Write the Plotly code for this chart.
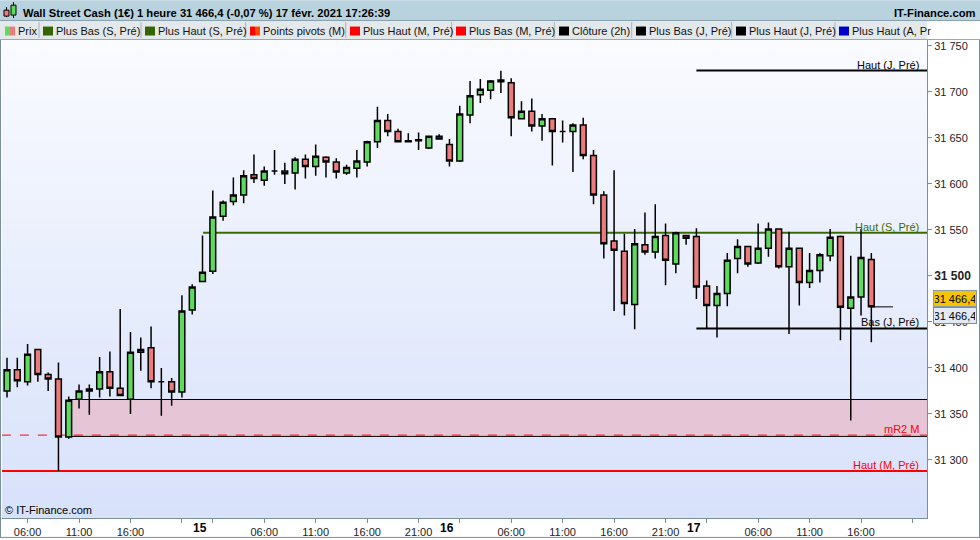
import plotly.graph_objects as go

# ---------------- data ----------------
opens = [31375, 31398, 31385, 31420, 31393, 31388, 31325, 31366, 31375, 31377,
         31396, 31378, 31366, 31417, 31422, 31385, 31385, 31374, 31463, 31494,
         31505, 31565, 31581, 31588, 31610, 31604, 31614, 31614, 31612, 31627,
         31619, 31629, 31624, 31612, 31617, 31624, 31646, 31669, 31657, 31647,
         31647, 31639, 31652, 31643, 31625, 31675, 31697, 31702, 31713, 31710,
         31671, 31679, 31663, 31671, 31657, 31657, 31664, 31631, 31588, 31538,
         31527, 31469, 31534, 31526, 31544, 31513, 31544, 31543, 31489, 31468,
         31481, 31519, 31532, 31514, 31530, 31551, 31510, 31530, 31493, 31506,
         31522, 31543, 31465, 31477, 31518]
highs = [31411, 31411, 31426, 31421, 31395, 31406, 31369, 31382, 31382, 31412,
         31418, 31464, 31439, 31433, 31445, 31400, 31389, 31479, 31491, 31544,
         31593, 31582, 31607, 31615, 31632, 31619, 31637, 31623, 31629, 31632,
         31643, 31630, 31628, 31621, 31637, 31647, 31684, 31676, 31660, 31655,
         31656, 31652, 31654, 31649, 31685, 31712, 31714, 31713, 31723, 31715,
         31690, 31693, 31676, 31671, 31669, 31666, 31672, 31637, 31592, 31615,
         31546, 31551, 31569, 31578, 31557, 31548, 31544, 31552, 31495, 31489,
         31525, 31540, 31532, 31557, 31558, 31551, 31548, 31530, 31525, 31525,
         31551, 31544, 31522, 31551, 31525]
lows = [31368, 31379, 31381, 31385, 31375, 31288, 31323, 31356, 31349, 31368,
        31369, 31370, 31350, 31397, 31378, 31348, 31359, 31368, 31458, 31494,
        31502, 31560, 31577, 31579, 31601, 31598, 31610, 31600, 31594, 31606,
        31609, 31607, 31606, 31610, 31607, 31619, 31639, 31652, 31645, 31645,
        31637, 31638, 31649, 31619, 31624, 31666, 31688, 31692, 31699, 31652,
        31670, 31657, 31647, 31620, 31645, 31613, 31627, 31578, 31519, 31462,
        31457, 31442, 31523, 31519, 31490, 31503, 31534, 31475, 31443, 31433,
        31467, 31503, 31510, 31513, 31521, 31508, 31437, 31468, 31487, 31493,
        31516, 31430, 31343, 31457, 31428]
closes = [31398, 31386, 31415, 31393, 31388, 31325, 31365, 31375, 31377, 31396,
          31378, 31370, 31417, 31420, 31385, 31385, 31374, 31462, 31488, 31504,
          31564, 31580, 31588, 31609, 31606, 31614, 31614, 31611, 31627, 31619,
          31630, 31624, 31613, 31618, 31625, 31646, 31669, 31657, 31646, 31646,
          31648, 31652, 31649, 31625, 31676, 31696, 31703, 31712, 31711, 31672,
          31679, 31663, 31671, 31657, 31657, 31664, 31631, 31588, 31535, 31528,
          31470, 31535, 31526, 31543, 31517, 31547, 31541, 31488, 31468, 31481,
          31517, 31532, 31513, 31530, 31551, 31510, 31530, 31493, 31506, 31523,
          31542, 31466, 31477, 31520, 31466.4]
bar_index = list(range(len(opens)))

time_tick_pos = [2, 7, 12, 17, 20, 25, 30, 35, 40, 44, 49, 54, 59, 64, 68, 73, 78, 83, 88]
time_tick_text = ["06:00", "11:00", "16:00", "", "", "06:00", "11:00", "16:00", "21:00", "",
                  "06:00", "11:00", "16:00", "21:00", "", "06:00", "11:00", "16:00", ""]
day_tick_pos = [20, 44, 68]
day_tick_text = ["15", "16", "17"]

price_ticks = [31300, 31350, 31400, 31450, 31500, 31550, 31600, 31650, 31700, 31750]
price_tick_text = ["31 300", "31 350", "31 400", "31 450", "<b><span style='font-size:12px'>31 500</span></b>",
                   "31 550", "31 600", "31 650", "31 700", "31 750"]

level_names = ["Haut (J, Pré)", "Haut (S, Pré)", "Bas (J, Pré)", "mR2 M", "Haut (M, Pré)"]
level_values = [31723.3, 31547.0, 31443.0, 31327.0, 31288.0]
level_start = [67, 19.05, 67, -0.5, -0.5]
level_colors = ["#000000", "#3a6b00", "#000000", "#ff0000", "#ff0000"]
level_dash = ["solid", "solid", "solid", "dash", "solid"]
level_width = [2, 2, 2, 1, 2]

zone_top = 31365.7
zone_bottom = 31325.6
zone_start = 6

last_price = 31466.4
last_price_text = "31 466,4"

title_text = "Wall Street Cash (1€) 1 heure 31 466,4 (-0,07 %) 17 févr. 2021 17:26:39"

legend_items = ["Prix", "Plus Bas (S, Pré)", "Plus Haut (S, Pré)", "Points pivots (M)",
                "Plus Haut (M, Pré)", "Plus Bas (M, Pré)", "Clôture (2h)", "Plus Bas (J, Pré)",
                "Plus Haut (J, Pré)", "Plus Haut (A, Pr"]
legend_colors = [("#5cdb5c", "#ee7b7b"), ("#336600", "#336600"), ("#336600", "#336600"),
                 ("#ff0000", "#ff4a00"), ("#ff0000", "#ff0000"), ("#ff0000", "#ff0000"),
                 ("#000000", "#000000"), ("#000000", "#000000"), ("#000000", "#000000"),
                 ("#0000cc", "#0000cc")]

# ---------------- geometry helpers (pixel -> paper) ----------------
W, H = 980, 540
PL, PR, PT, PB = 2, 927, 40, 520


def px(x):
    return (x - PL) / (PR - PL)


def py(y):
    return (PB - y) / (PB - PT)


FONT = "Liberation Sans, Arial, sans-serif"

fig = go.Figure()

fig.add_trace(go.Candlestick(
    x=bar_index, open=opens, high=highs, low=lows, close=closes,
    increasing=dict(fillcolor="#5cdb5c", line=dict(color="#000000", width=1.5)),
    decreasing=dict(fillcolor="#ee7b7b", line=dict(color="#000000", width=1.5)),
    whiskerwidth=0, showlegend=False, hoverinfo="skip",
))

shapes = []
# background gradient of the plot area
n_bands = 48
top_c = (250, 251, 255)
bot_c = (215, 225, 250)
for i in range(n_bands):
    t = (i + 0.5) / n_bands
    c = tuple(round(top_c[k] + (bot_c[k] - top_c[k]) * t) for k in range(3))
    shapes.append(dict(type="rect", xref="paper", yref="paper", x0=0, x1=1,
                       y0=1 - (i + 1) / n_bands, y1=1 - i / n_bands + 0.001,
                       fillcolor="rgb(%d,%d,%d)" % c, line=dict(width=0), layer="below"))

# pink zone
shapes.append(dict(type="rect", xref="x", yref="y", x0=zone_start, x1=89.5,
                   y0=zone_bottom, y1=zone_top, fillcolor="#e6c5d6",
                   line=dict(color="#000000", width=1), layer="below"))

# levels
for name, v, s, col, d, w in zip(level_names, level_values, level_start, level_colors, level_dash, level_width):
    shapes.append(dict(type="line", xref="x", yref="y", x0=s, x1=89.5, y0=v, y1=v,
                       line=dict(color=col, width=w, dash=d), layer="below"))

# last close line
shapes.append(dict(type="line", xref="x", yref="y", x0=bar_index[-1], x1=bar_index[-1] + 2.1,
                   y0=last_price, y1=last_price, line=dict(color="#000000", width=1)))

# header bar
shapes.append(dict(type="rect", xref="paper", yref="paper", x0=px(0), x1=px(980), y0=py(20), y1=py(0),
                   fillcolor="#b8d2de", line=dict(width=0)))
shapes.append(dict(type="line", xref="paper", yref="paper", x0=px(0), x1=px(980), y0=py(20.5), y1=py(20.5),
                   line=dict(color="#7f9aa8", width=1)))
# legend bar
shapes.append(dict(type="rect", xref="paper", yref="paper", x0=px(0), x1=px(927.5), y0=py(39), y1=py(21),
                   fillcolor="#e3e8eb", line=dict(width=0)))
shapes.append(dict(type="rect", xref="paper", yref="paper", x0=px(927.5), x1=px(980), y0=py(39), y1=py(21),
                   fillcolor="#ffffff", line=dict(width=0)))
shapes.append(dict(type="line", xref="paper", yref="paper", x0=px(0), x1=px(980), y0=py(39.5), y1=py(39.5),
                   line=dict(color="#9aa8b0", width=1)))
for sx in [39, 141, 245.7, 345.7, 451.7, 554.3, 631.7, 731.7, 835]:
    shapes.append(dict(type="line", xref="paper", yref="paper", x0=px(sx), x1=px(sx), y0=py(38), y1=py(22),
                       line=dict(color="#a8b4ba", width=1)))

legend_icon_x = [5, 43, 145, 250, 350, 456, 559, 636, 736, 839]
annotations = []
for name, (c1, c2), ix in zip(legend_items, legend_colors, legend_icon_x):
    shapes.append(dict(type="rect", xref="paper", yref="paper", x0=px(ix), x1=px(ix + 5), y0=py(35.5), y1=py(26.5),
                       fillcolor=c1, line=dict(width=0)))
    shapes.append(dict(type="rect", xref="paper", yref="paper", x0=px(ix + 5), x1=px(ix + 10), y0=py(35.5), y1=py(26.5),
                       fillcolor=c2, line=dict(width=0)))
    annotations.append(dict(xref="paper", yref="paper", x=px(ix + 11), y=py(31), xanchor="left", yanchor="middle",
                            text=name, showarrow=False, font=dict(family=FONT, size=11, color="#111111")))

# header icon (two small candles)
shapes.append(dict(type="line", xref="paper", yref="paper", x0=px(6.5), x1=px(6.5), y0=py(17), y1=py(7),
                   line=dict(color="#000", width=1)))
shapes.append(dict(type="rect", xref="paper", yref="paper", x0=px(4), x1=px(9), y0=py(16), y1=py(10),
                   fillcolor="#ee7b7b", line=dict(color="#000", width=1)))
shapes.append(dict(type="line", xref="paper", yref="paper", x0=px(13.5), x1=px(13.5), y0=py(18), y1=py(2),
                   line=dict(color="#000", width=1)))
shapes.append(dict(type="rect", xref="paper", yref="paper", x0=px(11), x1=px(16), y0=py(15), y1=py(5),
                   fillcolor="#5cdb5c", line=dict(color="#000", width=1)))

# outer frame
shapes.append(dict(type="line", xref="paper", yref="paper", x0=px(0.5), x1=px(0.5), y0=py(540), y1=py(40),
                   line=dict(color="#7b8e9c", width=1)))
shapes.append(dict(type="line", xref="paper", yref="paper", x0=px(0), x1=px(980), y0=py(539.5), y1=py(539.5),
                   line=dict(color="#7b8e9c", width=1)))
shapes.append(dict(type="line", xref="paper", yref="paper", x0=px(979.5), x1=px(979.5), y0=py(540), y1=py(40),
                   line=dict(color="#7b8e9c", width=1)))

# header texts
annotations.append(dict(xref="paper", yref="paper", x=px(21), y=py(12.5), xanchor="left", yanchor="middle",
                        text="<b>" + title_text + "</b>", showarrow=False,
                        font=dict(family=FONT, size=11.2, color="#000000")))
annotations.append(dict(xref="paper", yref="paper", x=px(977), y=py(12.5), xanchor="right", yanchor="middle",
                        text="<b>IT-Finance.com</b>", showarrow=False,
                        font=dict(family=FONT, size=11.2, color="#000000")))

# level labels
for name, v, col in zip(level_names, level_values, level_colors):
    annotations.append(dict(xref="paper", yref="y", x=px(921), y=v, xanchor="right", yanchor="bottom",
                            text=name, showarrow=False, yshift=-2,
                            font=dict(family=FONT, size=11, color=col)))

# day labels
for p, t in zip(day_tick_pos, day_tick_text):
    annotations.append(dict(xref="x", yref="paper", x=p - 0.4, y=py(530.5), xanchor="right", yanchor="middle",
                            text="<b>" + t + "</b>", showarrow=False,
                            font=dict(family=FONT, size=12, color="#000000")))

# copyright
annotations.append(dict(xref="paper", yref="paper", x=px(3), y=py(512), xanchor="left", yanchor="middle",
                        text="© IT-Finance.com", showarrow=False,
                        font=dict(family=FONT, size=11, color="#000000")))

# price boxes
annotations.append(dict(xref="paper", yref="y", x=px(932.5), y=last_price, xanchor="left", yanchor="bottom",
                        text=last_price_text, showarrow=False, bgcolor="#f6c400", bordercolor="#8a9aa8",
                        borderwidth=1, borderpad=1, width=40, height=13,
                        font=dict(family=FONT, size=11, color="#000000")))
annotations.append(dict(xref="paper", yref="y", x=px(932.5), y=last_price, xanchor="left", yanchor="top",
                        text=last_price_text, showarrow=False, bgcolor="#e1eaf5", bordercolor="#7b8e9c",
                        borderwidth=1, borderpad=1, width=40, height=13,
                        font=dict(family=FONT, size=11, color="#000000")))

fig.update_layout(
    width=W, height=H,
    margin=dict(l=PL, r=W - PR, t=PT, b=H - PB),
    paper_bgcolor="#ffffff",
    plot_bgcolor="#eef2fd",
    showlegend=False,
    boxgap=0.2,
    shapes=shapes,
    annotations=annotations,
    font=dict(family=FONT, size=11, color="#222222"),
    xaxis=dict(
        range=[-0.486, 89.41], rangeslider=dict(visible=False),
        tickmode="array", tickvals=time_tick_pos, ticktext=time_tick_text,
        ticks="outside", ticklen=4, tickcolor="#7b8e9c",
        showline=True, linecolor="#7b8e9c", linewidth=1,
        showgrid=False, zeroline=False,
        tickfont=dict(family=FONT, size=11, color="#222222"),
    ),
    yaxis=dict(
        range=[31236.9, 31756.5], side="right",
        tickmode="array", tickvals=price_ticks, ticktext=price_tick_text,
        ticks="outside", ticklen=4, tickcolor="#7b8e9c",
        showline=True, linecolor="#7b8e9c", linewidth=1,
        showgrid=False, zeroline=False,
        tickfont=dict(family=FONT, size=11, color="#222222"),
    ),
)

fig.write_html("out.html", config={"displayModeBar": False},
               post_script="document.body.style.margin='0';document.body.style.overflow='hidden';")
